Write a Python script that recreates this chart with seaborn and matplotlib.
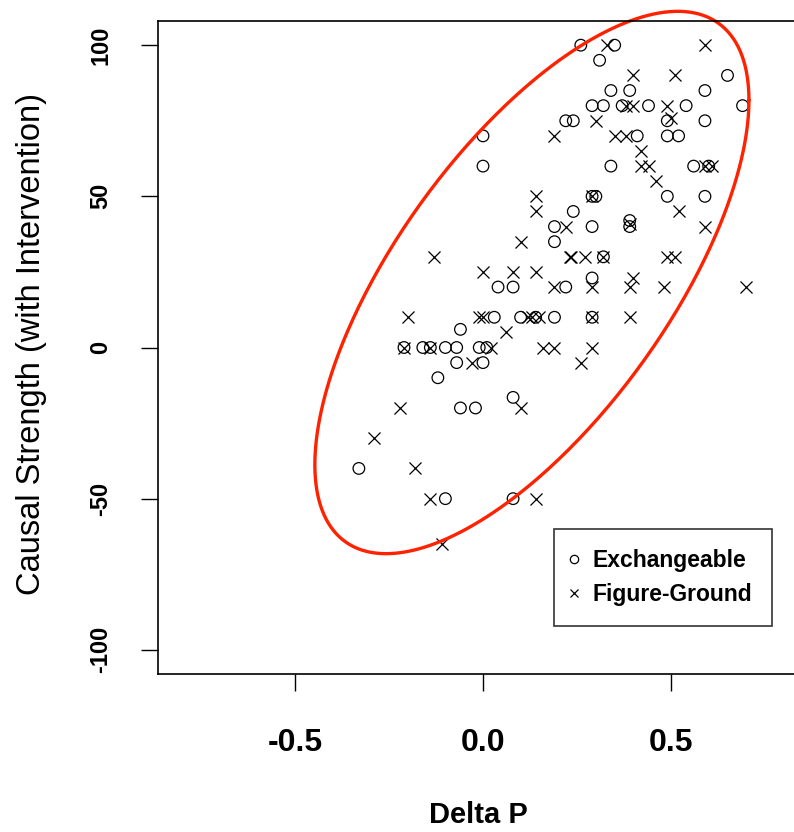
import numpy as np
import pandas as pd
import matplotlib
matplotlib.use("Agg")
import matplotlib.pyplot as plt
from matplotlib import font_manager
from matplotlib.lines import Line2D
import seaborn as sns

# Exchangeable condition (circles)
exch_dp = [0.26, 0.35, 0.31, 0.65, 0.34, 0.39, 0.59, 0.69, 0.29, 0.32, 0.37, 0.44,
           0.54, 0.22, 0.24, 0.59, 0.49, 0.41, 0.49, 0.52, 0.00, 0.00, 0.34, 0.56,
           0.29, 0.30, 0.49, 0.59, 0.24, 0.29, 0.19, 0.39, 0.39, 0.19, 0.32, 0.29,
           0.22, 0.04, 0.08, 0.03, 0.10, 0.14, 0.19, 0.29, -0.06, -0.21, -0.16,
           -0.14, -0.10, -0.07, -0.01, 0.01, -0.07, 0.00, -0.12, -0.06, -0.02,
           0.08, -0.33, -0.10, 0.08, 0.60]
exch_cs = [100, 100, 95, 90, 85, 85, 85, 80, 80, 80, 80, 80,
           80, 75, 75, 75, 75, 70, 70, 70, 70, 60, 60, 60,
           50, 50, 50, 50, 45, 40, 40, 42, 40, 35, 30, 23,
           20, 20, 20, 10, 10, 10, 10, 10, 6, 0, 0,
           0, 0, 0, 0, 0, -5, -5, -10, -20, -20,
           -16.5, -40, -50, -50, 60]

# Figure-Ground condition (crosses)
fig_dp = [0.33, 0.59, 0.40, 0.51, 0.30, 0.49, 0.50, 0.38, 0.40, 0.19, 0.35, 0.38,
          0.42, 0.42, 0.44, 0.46, 0.59, 0.61, 0.14, 0.14, 0.10, 0.22, 0.52, 0.59,
          0.23, 0.235, 0.27, 0.32, 0.49, 0.51, 0.14, 0.19, 0.29, 0.39, 0.40, 0.48,
          0.70, 0.13, 0.15, 0.29, 0.39, 0.16, 0.19, 0.29, 0.26, -0.13, 0.00, 0.08,
          -0.20, -0.01, 0.00, 0.06, 0.12, -0.21, 0.02, -0.03, -0.22, 0.10, -0.29,
          -0.18, -0.14, 0.14, -0.11, 0.39, -0.14, 0.29]
fig_cs = [100, 100, 90, 90, 75, 80, 76, 80, 80, 70, 70, 70,
          65, 60, 60, 55, 60, 60, 50, 45, 35, 40, 45, 40,
          30, 30, 30, 30, 30, 30, 25, 20, 20, 20, 23, 20,
          20, 10, 10, 10, 10, 0, 0, 0, -5, 30, 25, 25,
          10, 10, 10, 5, 10, 0, 0, -5, -20, -20, -30,
          -40, -50, -50, -65, 41, 0, 50]

x_ticks = [-0.5, 0.0, 0.5]
x_tick_labels = ["-0.5", "0.0", "0.5"]
y_ticks = [-100, -50, 0, 50, 100]
y_tick_labels = ["-100", "-50", "0", "50", "100"]
group_names = ["Exchangeable", "Figure-Ground"]

# Highlight ellipse: centre, spreads and correlation in data units
ell_center = (0.13, 21.5)
ell_sx, ell_sy, ell_r = 0.577, 89.7, 0.672

sans = "Liberation Sans"

sns.set_theme(style="white")
plt.rcParams["font.family"] = [sans, "DejaVu Sans"]
plt.rcParams.update({
    "text.color": "black",
    "axes.labelcolor": "black",
    "xtick.color": "black",
    "ytick.color": "black",
    "axes.edgecolor": "black",
})

df = pd.concat([
    pd.DataFrame({"dp": exch_dp, "cs": exch_cs, "group": group_names[0]}),
    pd.DataFrame({"dp": fig_dp, "cs": fig_cs, "group": group_names[1]}),
], ignore_index=True)

W, H = 794, 832
fig = plt.figure(figsize=(W / 100, H / 100), dpi=100)
ax = fig.add_axes([158 / W, (H - 674) / H, 650 / W, (674 - 21) / H])

sns.scatterplot(data=df[df.group == group_names[0]], x="dp", y="cs", ax=ax,
                marker="o", s=70, facecolors="none", edgecolor="black",
                linewidth=0.9, legend=False)
sns.scatterplot(data=df[df.group == group_names[1]], x="dp", y="cs", ax=ax,
                marker="x", s=75, color="black", linewidth=0.9, legend=False)

# Red ellipse around the point cloud (allowed to run past the frame)
t = np.linspace(0, 2 * np.pi, 400)
ex = ell_center[0] + ell_sx * np.cos(t)
ey = ell_center[1] + ell_sy * (ell_r * np.cos(t) + np.sqrt(1 - ell_r ** 2) * np.sin(t))
ax.plot(ex, ey, color="#ff2200", linewidth=2.4, solid_capstyle="round", clip_on=False)

ax.set_xlim(-0.864, 0.864)
ax.set_ylim(-108, 108)

ax.set_xticks(x_ticks)
ax.set_xticklabels(x_tick_labels, fontweight="bold", fontsize=23)
ax.set_yticks(y_ticks)
ax.set_yticklabels(y_tick_labels, fontweight="bold", fontsize=17,
                   rotation=90, va="center")
ax.tick_params(axis="x", length=12, width=1, pad=27, direction="out", bottom=True)
ax.tick_params(axis="y", length=12, width=1, pad=21, direction="out", left=True)

for sp in ax.spines.values():
    sp.set_color("black")
    sp.set_linewidth(1.2)

ax.set_xlabel("Delta P", fontweight="bold", fontsize=21)
ax.xaxis.label.set_va("center")
ax.xaxis.set_label_coords(0.493, -0.216)
ax.set_ylabel("Causal Strength (with Intervention)", fontsize=23.5)
ax.yaxis.label.set_va("center")
ax.yaxis.set_label_coords(-0.195, 0.505)

handles = [
    Line2D([], [], marker="o", linestyle="none", markerfacecolor="none",
           markeredgecolor="black", markersize=6, markeredgewidth=0.9),
    Line2D([], [], marker="x", linestyle="none", color="black",
           markersize=6, markeredgewidth=0.9),
]
leg = ax.legend(handles, group_names, loc="lower left",
                bbox_to_anchor=(0.609, 0.074), borderaxespad=0,
                frameon=True, fancybox=False, borderpad=0.85, handletextpad=0.8,
                labelspacing=0.5, handlelength=0.05,
                prop=font_manager.FontProperties(family=sans, weight="bold", size=16.5))
leg.get_frame().set_edgecolor("black")
leg.get_frame().set_linewidth(1.2)

fig.savefig("out.png", dpi=100, facecolor="white")
